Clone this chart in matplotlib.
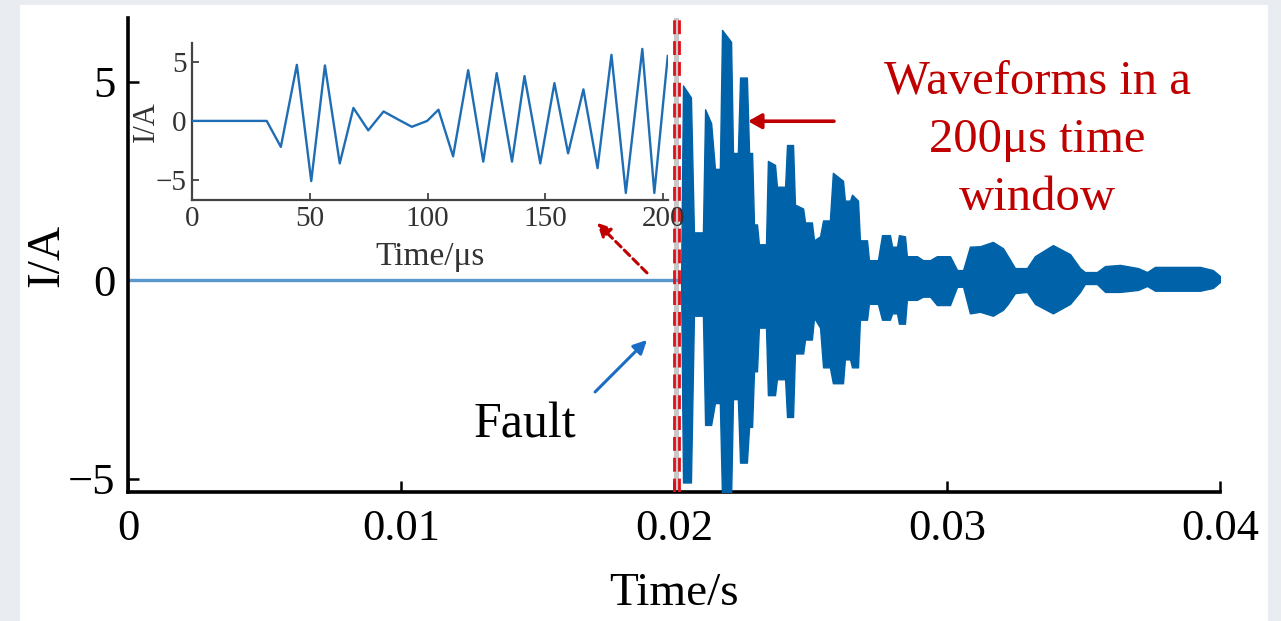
import matplotlib
matplotlib.use("Agg")
import matplotlib.pyplot as plt
from matplotlib.patches import Rectangle
import numpy as np

# ---------------- data ----------------
# main record: flat until the fault, then the envelope of the dense oscillation
fault_onset_ms = 20.26
env_t_ms = [20.26, 20.33, 20.62, 20.73, 21.06, 21.14, 21.36, 21.50, 21.68, 21.76,
            22.09, 22.16, 22.34, 22.42, 22.67, 22.75, 22.86, 22.93, 23.04, 23.11,
            23.37, 23.44, 23.70, 23.77, 24.07, 24.14, 24.36, 24.43, 24.73, 24.80,
            25.05, 25.13, 25.35, 25.46, 25.71, 25.82, 26.19, 26.26, 26.45, 26.52,
            26.74, 26.81, 27.07, 27.14, 27.47, 27.62, 27.91, 27.99, 28.17, 28.24,
            28.46, 28.53, 28.90, 29.12, 29.38, 29.63, 30.11, 30.37, 30.59, 30.84,
            31.21, 31.68, 32.05, 32.23, 32.49, 32.93, 33.22, 33.88, 34.51, 34.87,
            35.05, 35.49, 35.79, 36.34, 37.00, 37.33, 37.62, 38.53, 39.27, 39.74,
            40.00]
env_upper = [0.0, 4.9, 4.6, 1.2, 1.2, 4.3, 3.95, 2.8, 2.8, 6.3,
             6.0, 3.2, 3.2, 5.1, 5.1, 3.2, 3.2, 1.4, 1.4, 0.9,
             0.9, 3.0, 2.9, 2.35, 2.35, 3.4, 3.4, 1.9, 1.8, 1.45,
             1.45, 1.0, 1.1, 1.5, 1.5, 2.7, 2.5, 2.0, 2.0, 2.15,
             2.0, 1.0, 1.0, 0.5, 0.5, 1.13, 1.13, 0.84, 0.84, 1.13,
             1.1, 0.6, 0.6, 0.5, 0.5, 0.6, 0.6, 0.25, 0.25, 0.84,
             0.85, 0.96, 0.8, 0.6, 0.3, 0.3, 0.6, 0.88, 0.65, 0.3,
             0.2, 0.2, 0.35, 0.38, 0.3, 0.2, 0.33, 0.33, 0.33, 0.25,
             0.1]
env_lower = [0.0, -5.1, -5.1, -0.9, -0.9, -3.65, -3.65, -3.1, -3.1, -5.5,
             -5.5, -3.0, -3.0, -4.6, -4.6, -3.7, -3.7, -2.3, -2.3, -1.2,
             -1.2, -2.9, -2.9, -2.5, -2.5, -3.45, -3.45, -1.85, -1.85, -1.5,
             -1.5, -0.95, -1.2, -2.2, -2.2, -2.6, -2.6, -2.0, -2.0, -2.2,
             -2.2, -1.0, -1.0, -0.6, -0.6, -1.0, -1.0, -0.84, -0.84, -1.1,
             -1.1, -0.5, -0.5, -0.42, -0.42, -0.63, -0.63, -0.17, -0.17, -0.84,
             -0.8, -0.9, -0.75, -0.6, -0.33, -0.3, -0.6, -0.84, -0.6, -0.3,
             -0.1, -0.1, -0.3, -0.3, -0.25, -0.15, -0.27, -0.27, -0.27, -0.2,
             -0.05]

# inset: first 200 us after the window start
inset_t_us = [0, 31.7, 37.7, 44.5, 50.6, 56.4, 62.7, 68.5, 74.8, 81.3, 87.2,
              93.3, 99.8, 104.6, 110.8, 117.2, 123.6, 129.3, 135.8, 141.1, 147.8,
              153.8, 159.6, 166.1, 172.1, 178.0, 184.1, 191.1, 196.2, 201.9]
inset_i = [0, 0, -2.2, 4.75, -5.1, 4.7, -3.6, 1.1, -0.8, 0.8, 0.15,
           -0.5, 0.0, 0.95, -3.0, 4.3, -3.45, 4.05, -3.45, 3.8, -3.6,
           3.2, -2.75, 2.67, -4.0, 5.6, -6.1, 6.1, -6.1, 5.5]

window_start_s = 0.0200
window_end_s = 0.0202

main_xticks = [0, 0.01, 0.02, 0.03, 0.04]
main_xticklabels = ["0", "0.01", "0.02", "0.03", "0.04"]
main_yticks = [-5, 0, 5]
main_yticklabels = ["\u22125", "0", "5"]
inset_xticks = [0, 50, 100, 150, 200]
inset_yticks = [-5, 0, 5]
inset_yticklabels = ["\u22125", "0", "5"]

# ---------------- styling ----------------
W, H = 1281, 621
plt.rcParams['font.family'] = ['Liberation Serif', 'DejaVu Serif']
BLUE = '#0063A9'
FLAT = '#5A98CC'
RED = '#C00000'

fig = plt.figure(figsize=(W / 100, H / 100), dpi=100, facecolor='#E9EDF2')
fig.patches.append(Rectangle((20 / W, 0), (1268 - 20) / W, 616 / H,
                             transform=fig.transFigure, facecolor='white',
                             edgecolor='none', zorder=-10))

ax = fig.add_axes([128 / W, (H - 492) / H, (1220 - 128) / W, (492 - 18) / H])
ax.set_facecolor('none')

env_t = np.array(env_t_ms) / 1000.0
ax.plot([0, fault_onset_ms / 1000.0], [0, 0], color=FLAT, lw=2.4, zorder=2,
        solid_capstyle='butt')
ax.fill_between(env_t, env_lower, env_upper, color=BLUE, lw=1.0,
                edgecolor=BLUE, zorder=3)

ax.axvspan(window_start_s, window_end_s, color='#C8C8C8', lw=0, zorder=1)
for xv in (window_start_s, window_end_s):
    ax.axvline(xv, color='#E0101A', lw=2.0, ls=(0, (5, 2.5)), zorder=4)

ax.set_xlim(0, 0.04)
ax.set_ylim(-5.34, 6.6)
for s in ('top', 'right'):
    ax.spines[s].set_visible(False)
for s in ('left', 'bottom'):
    ax.spines[s].set_linewidth(2.6)
    ax.spines[s].set_color('black')
ax.set_xticks(main_xticks)
ax.set_xticklabels(main_xticklabels)
ax.set_yticks(main_yticks)
ax.set_yticklabels(main_yticklabels)
ax.tick_params(direction='in', length=8, width=1.8, labelsize=32, colors='black')
ax.tick_params(axis='x', pad=12)
ax.tick_params(axis='y', pad=9)
ax.set_xlabel('Time/s', fontsize=34, labelpad=17)
ax.set_ylabel('I/A', fontsize=34, labelpad=0)

# annotations (positions in data units of the main axes)
ax.annotate('', xy=(0.02271, 4.0), xytext=(0.02586, 4.0),
            arrowprops=dict(arrowstyle='-|>,head_length=0.8,head_width=0.45',
                            color=RED, lw=2.6, shrinkA=0, shrinkB=0), zorder=6)
ax.annotate('', xy=(0.01718, 1.44), xytext=(0.01901, 0.18),
            arrowprops=dict(arrowstyle='-|>,head_length=0.8,head_width=0.4',
                            color=RED, lw=2.2, ls=(0, (2.5, 1.5)),
                            shrinkA=0, shrinkB=0), zorder=6)
ax.annotate('', xy=(0.01901, -1.51), xytext=(0.01711, -2.82),
            arrowprops=dict(arrowstyle='-|>,head_length=0.8,head_width=0.4',
                            color='#1A6DC4', lw=2.2, shrinkA=0, shrinkB=0),
            zorder=6)
ax.text(0.01454, -3.65, 'Fault', fontsize=36, color='black',
        ha='center', va='center', zorder=6)
ax.text(0.0333, 3.53, 'Waveforms in a\n200\u03bcs time\nwindow', fontsize=35,
        color=RED, ha='center', va='center', linespacing=1.42, zorder=6)

# ---------------- inset ----------------
ins = fig.add_axes([192 / W, (H - 200) / H, (668 - 192) / W, (200 - 43) / H])
ins.set_facecolor('none')
ins.plot(inset_t_us, inset_i, color='#1F6EB5', lw=1.7, zorder=3)
ins.set_xlim(0, 202)
ins.set_ylim(-6.7, 6.6)
for s in ('top', 'right'):
    ins.spines[s].set_visible(False)
for s in ('left', 'bottom'):
    ins.spines[s].set_linewidth(1.6)
    ins.spines[s].set_color('#444444')
ins.set_xticks(inset_xticks)
ins.set_yticks(inset_yticks)
ins.set_yticklabels(inset_yticklabels)
ins.tick_params(direction='in', length=5, width=1.2, labelsize=21, pad=4,
                colors='#333333')
ins.set_xlabel('Time/\u03bcs', fontsize=24, labelpad=7, color='#333333')
ins.set_ylabel('I/A', fontsize=22, labelpad=-4, color='#333333')

fig.savefig('out.png', dpi=100, facecolor=fig.get_facecolor())
